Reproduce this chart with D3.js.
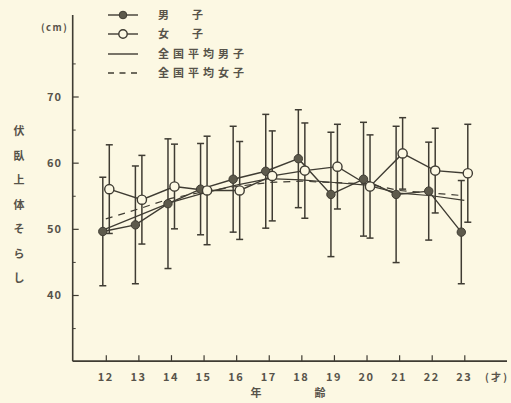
<!DOCTYPE html>
<html><head><meta charset="utf-8">
<script src="https://cdn.jsdelivr.net/npm/d3@7"></script>
<style>
html,body{margin:0;padding:0;background:#fcf8e3;}
svg{display:block;}
text{font-family:"Noto Sans CJK JP","Noto Sans",sans-serif;fill:#57534a;}
</style></head>
<body><svg id="c" width="511" height="403"></svg>
<script>
const ages = [12,13,14,15,16,17,18,19,20,21,22,23];
const boyMean  = [49.6,50.6,53.8,56.0,57.5,58.7,60.6,55.2,57.5,55.2,55.7,49.5];
const boySD    = [8.2,8.9,9.8,6.9,8.0,8.6,7.4,9.4,8.6,10.3,7.4,7.8];
const girlMean = [56.0,54.4,56.4,55.8,55.8,58.0,58.8,59.4,56.4,61.4,58.8,58.4];
const girlSD   = [6.7,6.7,6.4,8.2,7.4,6.8,7.2,6.4,7.8,5.4,6.4,7.4];
const natBoy   = [50.0,52.0,54.0,55.4,56.6,57.6,57.4,57.0,56.6,55.4,55.0,54.3];
const natGirl  = [51.5,53.0,54.6,55.6,56.4,57.0,57.2,57.0,56.8,55.8,55.4,55.0];
const yTicks = [40,50,60,70];
const yMinor = [35,45,55,65,75];
const legendLabels = [["男","子"],["女","子"],["全国平均男子"],["全国平均女子"]];
const yTitle = ["伏","臥","上","体","そ","ら","し"];

const svg = d3.select("#c");
const ink = "#3f3c33";
const x = d3.scaleLinear().domain([12,23]).range([105.8,464.3]);
const y = d3.scaleLinear().domain([40,70]).range([295,96.5]);
const xAxisY = y(30);
const axisX = 72.7;

// axes
const yAxis = svg.append("g").attr("transform",`translate(${axisX},0)`)
  .call(d3.axisRight(y).tickValues(yTicks).tickSize(6).tickFormat(""));
yAxis.select(".domain").remove();
yAxis.selectAll("line").attr("stroke",ink).attr("stroke-width",1.2);
svg.append("g").attr("transform",`translate(${axisX},0)`)
  .call(d3.axisRight(y).tickValues(yMinor).tickSize(3).tickFormat(""))
  .call(g=>{g.select(".domain").remove(); g.selectAll("line").attr("stroke",ink).attr("stroke-width",1);});
svg.append("line").attr("x1",axisX).attr("x2",axisX).attr("y1",15).attr("y2",xAxisY)
  .attr("stroke",ink).attr("stroke-width",1.6);
svg.selectAll(".ylab").data(yTicks).enter().append("text")
  .attr("x",62).attr("y",d=>y(d)+4).attr("text-anchor","end")
  .attr("font-size",11).attr("font-weight",600).attr("letter-spacing",1).text(d=>d);
svg.append("text").attr("x",41).attr("y",31).attr("font-size",9.5).attr("font-weight",600).attr("letter-spacing",1.5).text("(cm)");

const xAxis = svg.append("g").attr("transform",`translate(0,${xAxisY})`)
  .call(d3.axisTop(x).tickValues(ages).tickSize(6).tickFormat(""));
xAxis.select(".domain").remove();
xAxis.selectAll("line").attr("stroke",ink).attr("stroke-width",1.2);
svg.append("line").attr("x1",axisX).attr("x2",507).attr("y1",xAxisY).attr("y2",xAxisY)
  .attr("stroke",ink).attr("stroke-width",1.6);
svg.selectAll(".xlab").data(ages).enter().append("text")
  .attr("x",d=>x(d)).attr("y",381).attr("text-anchor","middle")
  .attr("font-size",11).attr("font-weight",600).attr("letter-spacing",1.5).text(d=>d);
svg.append("text").attr("x",496).attr("y",381).attr("text-anchor","middle")
  .attr("font-size",10).attr("font-weight",600).text("( 才 )");
svg.append("text").attr("x",256).attr("y",397).attr("text-anchor","middle").attr("font-size",11).attr("font-weight",600).text("年");
svg.append("text").attr("x",320).attr("y",397).attr("text-anchor","middle").attr("font-size",11).attr("font-weight",600).text("齢");

// y title
svg.selectAll(".yt").data(yTitle).enter().append("text")
  .attr("x",19).attr("y",(d,i)=>135+i*24.5).attr("text-anchor","middle")
  .attr("font-size",11).attr("font-weight",600).text(d=>d);

// national lines
const line = d3.line().x((d,i)=>x(ages[i])).y(d=>y(d));
svg.append("path").attr("d",line(natBoy)).attr("fill","none").attr("stroke",ink).attr("stroke-width",1.2);
svg.append("path").attr("d",line(natGirl)).attr("fill","none").attr("stroke",ink).attr("stroke-width",1.2)
  .attr("stroke-dasharray","7,6");

// error bars
function errBars(mean, sd, dx){
  const g = svg.append("g");
  mean.forEach((m,i)=>{
    const cx = x(ages[i])+dx;
    g.append("line").attr("x1",cx).attr("x2",cx).attr("y1",y(m+sd[i])).attr("y2",y(m-sd[i]))
      .attr("stroke",ink).attr("stroke-width",1.5);
    [m+sd[i], m-sd[i]].forEach(v=>{
      g.append("line").attr("x1",cx-3.5).attr("x2",cx+3.5).attr("y1",y(v)).attr("y2",y(v))
        .attr("stroke",ink).attr("stroke-width",1.5);
    });
  });
}
const boyDx = -3, girlDx = 3.5;
errBars(boyMean, boySD, boyDx);
errBars(girlMean, girlSD, girlDx);

const lineB = d3.line().x((d,i)=>x(ages[i])+boyDx).y(d=>y(d));
const lineG = d3.line().x((d,i)=>x(ages[i])+girlDx).y(d=>y(d));
svg.append("path").attr("d",lineB(boyMean)).attr("fill","none").attr("stroke",ink).attr("stroke-width",1.4);
svg.append("path").attr("d",lineG(girlMean)).attr("fill","none").attr("stroke",ink).attr("stroke-width",1.4);

svg.selectAll(".bd").data(boyMean).enter().append("circle")
  .attr("cx",(d,i)=>x(ages[i])+boyDx).attr("cy",d=>y(d)).attr("r",4.2)
  .attr("fill","#5d5a4c").attr("stroke",ink).attr("stroke-width",1);
svg.selectAll(".gd").data(girlMean).enter().append("circle")
  .attr("cx",(d,i)=>x(ages[i])+girlDx).attr("cy",d=>y(d)).attr("r",4.6)
  .attr("fill","#fcf8e3").attr("stroke",ink).attr("stroke-width",1.4);

// legend
const legY = [15,34,54,73];
const lg = svg.append("g");
legendLabels.forEach((t,i)=>{
  const ly = legY[i];
  const l = lg.append("line").attr("x1",108).attr("x2",138).attr("y1",ly).attr("y2",ly)
    .attr("stroke",ink).attr("stroke-width",1.4);
  if(i===3) l.attr("stroke-dasharray","6,5.5");
  if(i===0) lg.append("circle").attr("cx",123).attr("cy",ly).attr("r",3.8).attr("fill","#5d5a4c").attr("stroke",ink);
  if(i===1) lg.append("circle").attr("cx",123).attr("cy",ly).attr("r",4.2).attr("fill","#fcf8e3").attr("stroke",ink).attr("stroke-width",1.4);
  if(t.length===2){
    lg.append("text").attr("x",158).attr("y",ly+4).attr("font-size",11).attr("font-weight",600).text(t[0]);
    lg.append("text").attr("x",192).attr("y",ly+4).attr("font-size",11).attr("font-weight",600).text(t[1]);
  } else {
    lg.append("text").attr("x",158).attr("y",ly+4).attr("font-size",11).attr("font-weight",600).attr("letter-spacing",4).text(t[0]);
  }
});
</script></body></html>
